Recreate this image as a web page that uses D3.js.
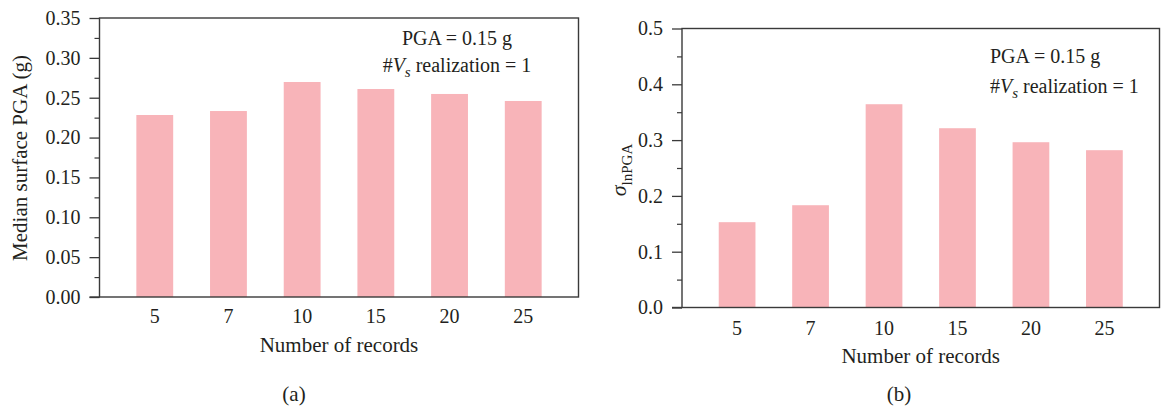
<!DOCTYPE html>
<html>
<head>
<meta charset="utf-8">
<script src="https://cdn.jsdelivr.net/npm/d3@7"></script>
<style>
  body { margin: 0; background: #fff; }
  svg text { font-family: "Liberation Serif", "DejaVu Serif", serif; fill: #231f20; }
</style>
</head>
<body>
<div id="chart"></div>
<script>
const records = ["5", "7", "10", "15", "20", "25"];
const medianPGA = [0.2283, 0.2333, 0.2697, 0.2609, 0.2547, 0.2459];
const sigmaLnPGA = [0.1529, 0.1833, 0.3643, 0.3213, 0.2962, 0.2819];
const ticksA = [0, 0.05, 0.10, 0.15, 0.20, 0.25, 0.30, 0.35];
const ticksB = [0, 0.1, 0.2, 0.3, 0.4, 0.5];

const barColor = "#f8b4b9";
const axisColor = "#3a3a3a";

const svg = d3.select("#chart")
  .append("svg")
  .attr("width", 1161)
  .attr("height", 409);

function panel(opts) {
  const g = svg.append("g");
  const x = d3.scaleBand()
    .domain(records)
    .range([opts.left, opts.right])
    .paddingInner(0.5)
    .paddingOuter(0.5);
  const y = d3.scaleLinear()
    .domain(opts.domain)
    .range([opts.bottom, opts.top]);

  // bars
  g.selectAll("rect.bar")
    .data(opts.values)
    .enter()
    .append("rect")
    .attr("class", "bar")
    .attr("x", (d, i) => x(records[i]))
    .attr("y", d => y(d))
    .attr("width", x.bandwidth())
    .attr("height", d => y(0) - y(d))
    .attr("fill", barColor);

  // minor ticks
  const minor = [];
  for (let i = 0; i < opts.ticks.length - 1; i++) {
    minor.push((opts.ticks[i] + opts.ticks[i + 1]) / 2);
  }
  g.append("g")
    .attr("transform", `translate(${opts.left},0)`)
    .call(d3.axisLeft(y).tickValues(minor).tickSize(5).tickFormat(""))
    .call(a => a.select(".domain").remove())
    .selectAll("line").attr("stroke", axisColor).attr("stroke-width", 1.2);

  // major ticks
  const yAx = g.append("g")
    .attr("transform", `translate(${opts.left},0)`)
    .call(d3.axisLeft(y).tickValues(opts.ticks).tickSize(10).tickPadding(9).tickFormat(d3.format(opts.fmt)));
  yAx.select(".domain").remove();
  yAx.selectAll("line").attr("stroke", axisColor).attr("stroke-width", 1.3);
  yAx.selectAll("text")
    .attr("font-size", 20)
    .attr("font-family", "Liberation Serif, serif")
    .attr("fill", "#231f20");

  // x axis labels (no ticks)
  const xAx = g.append("g")
    .attr("transform", `translate(0,${opts.bottom})`)
    .call(d3.axisBottom(x).tickSize(0).tickPadding(opts.xPad));
  xAx.select(".domain").remove();
  xAx.selectAll("text")
    .attr("font-size", 20)
    .attr("font-family", "Liberation Serif, serif")
    .attr("fill", "#231f20");

  // frame
  g.append("rect")
    .attr("x", opts.left)
    .attr("y", opts.top)
    .attr("width", opts.right - opts.left)
    .attr("height", opts.bottom - opts.top)
    .attr("fill", "none")
    .attr("stroke", axisColor)
    .attr("stroke-width", 1.4);
  g.append("line")
    .attr("x1", opts.left - 10).attr("x2", opts.left)
    .attr("y1", opts.bottom).attr("y2", opts.bottom)
    .attr("stroke", axisColor).attr("stroke-width", 1.4);

  // x title
  g.append("text")
    .attr("x", (opts.left + opts.right) / 2)
    .attr("y", opts.xTitleY)
    .attr("text-anchor", "middle")
    .attr("font-size", 21)
    .text("Number of records");

  // panel letter
  g.append("text")
    .attr("x", opts.letterX)
    .attr("y", opts.letterY)
    .attr("text-anchor", "middle")
    .attr("font-size", 21)
    .text(opts.letter);

  // annotation
  const ann = g.append("g").attr("font-size", 20);
  ann.append("text")
    .attr("x", opts.annX)
    .attr("y", opts.annY)
    .attr("text-anchor", opts.annAnchor)
    .text("PGA = 0.15 g");
  const t2 = ann.append("text")
    .attr("x", opts.annX)
    .attr("y", opts.annY + opts.annGap)
    .attr("text-anchor", opts.annAnchor);
  t2.append("tspan").text("#");
  t2.append("tspan").attr("font-style", "italic").text("V");
  t2.append("tspan").attr("font-style", "italic").attr("font-size", 15).attr("dy", 5).text("s");
  t2.append("tspan").attr("dy", -5).text(" realization = 1");

  return g;
}

const gA = panel({
  left: 99.5, right: 578.5, top: 18, bottom: 297,
  domain: [0, 0.35], values: medianPGA, ticks: ticksA, fmt: ".2f",
  xPad: 12, xTitleY: 352, letter: "(a)", letterX: 294, letterY: 401,
  annX: 457, annY: 45, annGap: 27, annAnchor: "middle"
});
gA.append("text")
  .attr("transform", "translate(27,158) rotate(-90)")
  .attr("text-anchor", "middle")
  .attr("font-size", 21)
  .text("Median surface PGA (g)");

const gB = panel({
  left: 682, right: 1159.5, top: 28.5, bottom: 307.5,
  domain: [0, 0.5], values: sigmaLnPGA, ticks: ticksB, fmt: ".1f",
  xPad: 13, xTitleY: 363, letter: "(b)", letterX: 899, letterY: 401,
  annX: 990, annY: 63, annGap: 30, annAnchor: "start"
});
const yl = gB.append("text")
  .attr("transform", "translate(626,170) rotate(-90)")
  .attr("text-anchor", "middle");
yl.append("tspan").attr("font-style", "italic").attr("font-size", 22).text("σ");
yl.append("tspan").attr("font-size", 15).attr("dy", 6).text("lnPGA");
</script>
</body>
</html>
